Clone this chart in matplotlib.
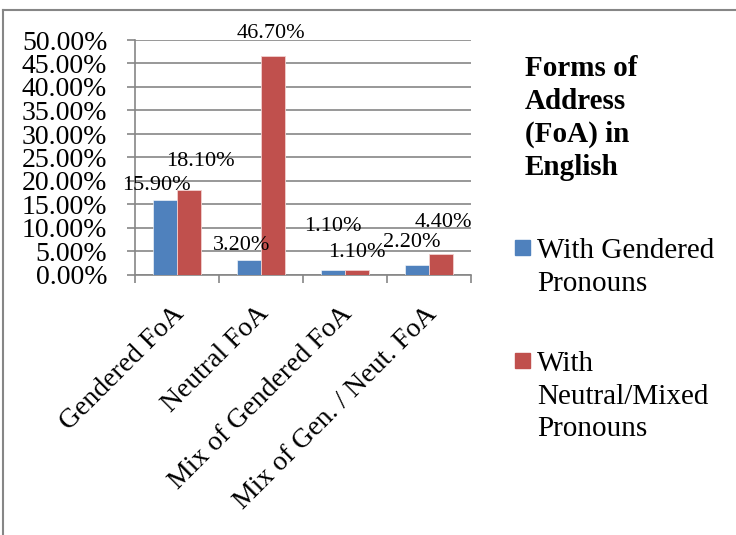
import numpy as np
import matplotlib
matplotlib.use("Agg")
from matplotlib import pyplot as plt
from matplotlib.lines import Line2D
from matplotlib.patches import Rectangle
from matplotlib.ticker import FuncFormatter, FixedLocator
import matplotlib.transforms as mtransforms

# data
categories = ["Gendered FoA", "Neutral FoA", "Mix of Gendered FoA", "Mix of Gen. / Neut. FoA"]
gendered = [15.9, 3.2, 1.1, 2.2]
neutral_mixed = [18.1, 46.7, 1.1, 4.4]
series_names = ["With Gendered\nPronouns", "With\nNeutral/Mixed\nPronouns"]
title = "Forms of\nAddress\n(FoA) in\nEnglish"

# label offsets (pixels, dx, dy from bar top)
off_gendered = [(-9, 15), (-7, 14), (0, 43), (-5, 22)]
off_neutral = [(11, 28), (-2, 22), (0, 17), (2, 32)]

plt.rcParams["font.family"] = ["Liberation Serif", "DejaVu Serif"]
grey = "#868686"
blue = "#4F81BD"
red = "#C0504D"

fig = plt.figure(figsize=(7.36, 5.35), dpi=100)
ax = fig.add_axes([135 / 736, 1 - 275 / 535, 336 / 736, 235 / 535])

x = np.arange(len(categories))
w = 1 / 3.5
b1 = ax.bar(x - w / 2, gendered, w, color=blue, edgecolor="white", linewidth=0.4, zorder=3)
b2 = ax.bar(x + w / 2, neutral_mixed, w, color=red, edgecolor="#f2d0cf", linewidth=0.6, zorder=3)

px = 72 / 100
for i in range(len(x)):
    ax.annotate(f"{gendered[i]:.2f}%", (x[i] - w / 2, gendered[i]),
                xytext=(off_gendered[i][0] * px, off_gendered[i][1] * px),
                textcoords="offset points", ha="center", va="center", fontsize=16, zorder=5)
    ax.annotate(f"{neutral_mixed[i]:.2f}%", (x[i] + w / 2, neutral_mixed[i]),
                xytext=(off_neutral[i][0] * px, off_neutral[i][1] * px),
                textcoords="offset points", ha="center", va="center", fontsize=16, zorder=5,
                annotation_clip=False)

ax.set_xlim(-0.5, len(categories) - 0.5)
ax.set_ylim(0, 50)
ax.set_yticks(np.arange(0, 50.1, 5))
ax.yaxis.set_major_formatter(FuncFormatter(lambda v, p: f"{v:.2f}%"))
ax.grid(axis="y", color=grey, linewidth=1.2, zorder=0)
ax.set_axisbelow(True)

ax.xaxis.set_major_locator(FixedLocator(np.arange(-0.5, len(categories), 1)))
ax.xaxis.set_minor_locator(FixedLocator(x))
ax.set_xticklabels([])
ax.set_xticklabels(categories, minor=True)
ax.tick_params(axis="x", which="major", length=6, color=grey, width=1.2, direction="out")
ax.tick_params(axis="x", which="minor", length=0, pad=19, labelsize=20)
ax.tick_params(axis="y", length=6, color=grey, width=1.2, pad=14, labelsize=20)
offset = mtransforms.ScaledTranslation(-5 / 100, 0, fig.dpi_scale_trans)
for lab in ax.get_xticklabels(minor=True):
    lab.set_rotation(45)
    lab.set_ha("right")
    lab.set_va("top")
    lab.set_rotation_mode("anchor")
    lab.set_transform(lab.get_transform() + offset)

for s in ["top", "right"]:
    ax.spines[s].set_visible(False)
for s in ["left", "bottom"]:
    ax.spines[s].set_color(grey)
    ax.spines[s].set_linewidth(1.2)

# title and legend on the right
fig.text(525 / 736, 1 - 55 / 535, title, fontsize=21, fontweight="bold",
         ha="left", va="top", linespacing=1.28)
legend_y = [240, 353]
for col, name, yy in zip([blue, red], series_names, legend_y):
    fig.patches.append(Rectangle((515 / 736, 1 - (yy + 15) / 535), 15 / 736, 15 / 535,
                                 transform=fig.transFigure, color=col))
    fig.text(537 / 736, 1 - (yy - 2) / 535, name, fontsize=21, ha="left", va="top",
             linespacing=1.33)

# chart border
fig.add_artist(Line2D([3 / 736, 3 / 736], [0, 1 - 10 / 535], transform=fig.transFigure, color=grey, linewidth=1.5))
fig.add_artist(Line2D([3 / 736, 1], [1 - 10 / 535, 1 - 10 / 535], transform=fig.transFigure, color=grey, linewidth=1.5))

fig.savefig("out.png", dpi=100)
